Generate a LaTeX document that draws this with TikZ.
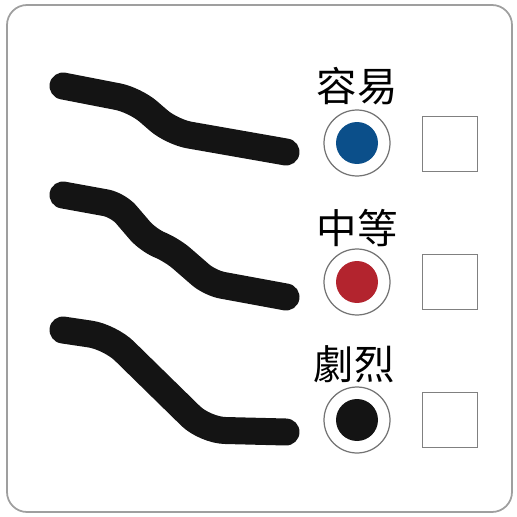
\documentclass[tikz,border=0pt]{standalone}
\usepackage{fontspec}
\newfontfamily\cjk{Noto Sans CJK TC}
\definecolor{easyblue}{HTML}{0B4F8A}
\definecolor{midred}{HTML}{B3242E}
\definecolor{roadblack}{HTML}{141414}
\begin{document}
\begin{tikzpicture}[x=0.02cm,y=-0.02cm,
    lbl/.style={font=\cjk\fontsize{23}{23}\selectfont,inner sep=0pt},
    ring/.style={circle,draw=gray!90!black,line width=0.7pt,minimum size=1.32cm,inner sep=0pt},
    dot/.style={circle,minimum size=0.84cm,inner sep=0pt},
    box/.style={draw=gray,line width=0.9pt,minimum size=1.1cm,inner sep=0pt},
    road/.style={roadblack,line width=0.54cm,line cap=round,line join=round}]
      \useasboundingbox (0,0) rectangle (517,517);
      \draw[gray!75,line width=1pt,rounded corners=0.4cm] (7,5) rectangle (512,512);
      % roads
      \draw[road,rounded corners=0.35cm] (63,86) -- (135,100) -- (172,132) -- (286,152);
      \draw[road,rounded corners=0.25cm] (63,195) -- (118,205) -- (148,240) -- (172,250) -- (210,283) -- (286,297);
      \draw[road,rounded corners=0.4cm] (63,330) -- (110,337) -- (205,430) -- (286,432);
      % labels
      \node[lbl] (easy) at (357,86) {容易};
      \node[lbl] (medium) at (357,228) {中等};
      \node[lbl] (hard) at (354,364) {劇烈};
      % lights
      \node[ring] (ringA) at (357,143) {};
      \node[ring] (ringB) at (357,282) {};
      \node[ring] (ringC) at (357,420) {};
      \node[dot,fill=easyblue] (dotA) at (ringA) {};
      \node[dot,fill=midred] (dotB) at (ringB) {};
      \node[dot,fill=roadblack] (dotC) at (ringC) {};
      % boxes
      \node[box] (boxA) at (450,144) {};
      \node[box] (boxB) at (450,282) {};
      \node[box] (boxC) at (450,420) {};
\end{tikzpicture}
\end{document}
